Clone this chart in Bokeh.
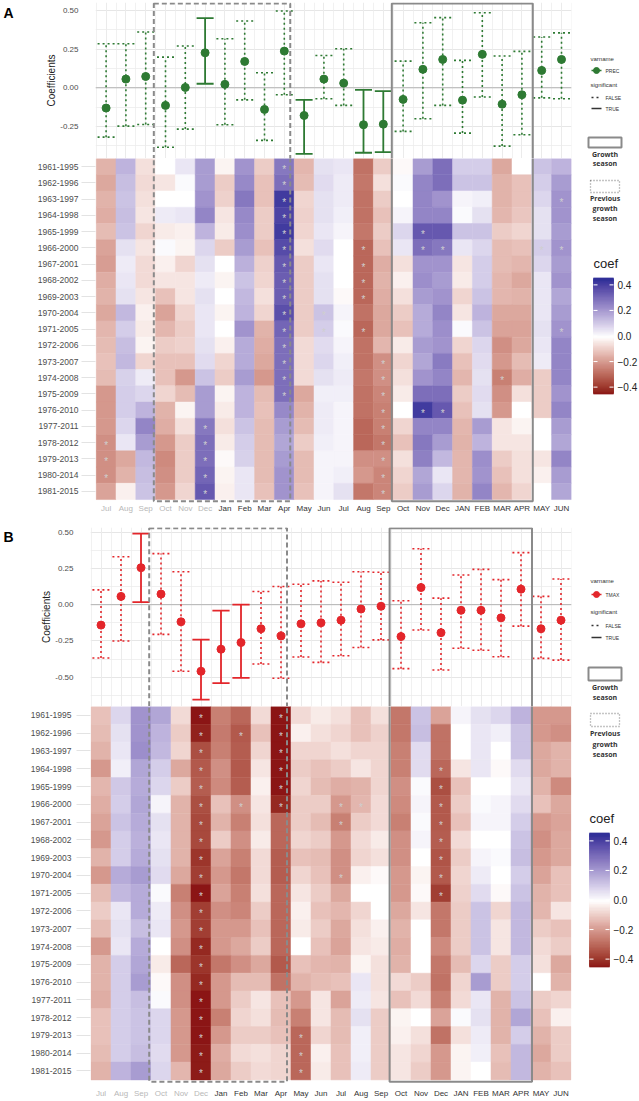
import numpy as np
from bokeh.plotting import figure
from bokeh.models import (ColumnDataSource, Range1d, FixedTicker, LinearColorMapper,
                          Span, PrintfTickFormatter, Grid)
from bokeh.layouts import column, row
from bokeh.transform import transform
from bokeh.core.properties import value
from bokeh.embed import file_html
from bokeh.resources import INLINE

# ------------------------------------------------------------------ data
months = ["Jul", "Aug", "Sep", "Oct", "Nov", "Dec", "Jan", "Feb", "Mar", "Apr", "May", "Jun",
          "Jul", "Aug", "Sep", "Oct", "Nov", "Dec", "JAN", "FEB", "MAR", "APR", "MAY", "JUN"]
previous_year_month = [True] * 6 + [False] * 18
windows = ["1961-1995", "1962-1996", "1963-1997", "1964-1998", "1965-1999", "1966-2000",
           "1967-2001", "1968-2002", "1969-2003", "1970-2004", "1971-2005", "1972-2006",
           "1973-2007", "1974-2008", "1975-2009", "1976-2010", "1977-2011", "1978-2012",
           "1979-2013", "1980-2014", "1981-2015"]

# whole-period coefficients (top panels)
prec_coef = [-0.131, 0.056, 0.073, -0.114, 0.002, 0.226, 0.022, 0.170, -0.140, 0.237, -0.179, 0.056,
             0.030, -0.239, -0.235, -0.075, 0.119, 0.183, -0.080, 0.216, -0.106, -0.045, 0.112, 0.183]
prec_lower = [-0.319, -0.248, -0.237, -0.384, -0.267, 0.026, -0.239, -0.078, -0.340, -0.045, -0.427, -0.071,
              -0.114, -0.420, -0.416, -0.282, -0.200, -0.114, -0.293, -0.060, -0.377, -0.304, -0.065, -0.071]
prec_upper = [0.284, 0.284, 0.360, 0.198, 0.270, 0.450, 0.317, 0.431, 0.097, 0.496, -0.078, 0.209,
              0.252, -0.013, -0.022, 0.172, 0.420, 0.453, 0.177, 0.485, 0.205, 0.235, 0.328, 0.355]
prec_significant = [False, False, False, False, False, True, False, False, False, False, True, False,
                    False, True, True, False, False, False, False, False, False, False, False, False]

tmax_coef = [-0.141, 0.057, 0.255, 0.073, -0.118, -0.459, -0.307, -0.261, -0.166, -0.216, -0.132, -0.125,
             -0.107, -0.030, -0.011, -0.220, 0.118, -0.193, -0.039, -0.039, -0.091, 0.107, -0.166, -0.107]
tmax_lower = [-0.368, -0.250, 0.018, -0.205, -0.459, -0.655, -0.541, -0.505, -0.409, -0.507, -0.361, -0.398,
              -0.352, -0.295, -0.243, -0.441, -0.175, -0.450, -0.300, -0.314, -0.359, -0.148, -0.370, -0.382]
tmax_upper = [0.102, 0.330, 0.490, 0.352, 0.227, -0.241, -0.041, 0.000, 0.091, 0.125, 0.141, 0.164,
              0.155, 0.227, 0.223, 0.027, 0.386, 0.045, 0.205, 0.243, 0.173, 0.359, 0.057, 0.177]
tmax_significant = [False, False, True, False, False, True, True, True, False, False, False, False,
                    False, False, False, False, False, False, False, False, False, False, False, False]

# moving-window coefficients: one list per month (21 windows each, 1961-1995 ... 1981-2015)
prec_heat = [
    [-0.15, -0.17, -0.15, -0.16, -0.13, -0.18, -0.19, -0.16, -0.15, -0.17, -0.14, -0.13, -0.12, -0.13, -0.20, -0.20, -0.20, -0.22, -0.22, -0.22, -0.18],
    [0.15, 0.13, 0.12, 0.13, 0.12, 0.06, 0.04, 0.05, 0.06, 0.14, 0.10, 0.13, 0.14, 0.09, 0.10, 0.10, 0.08, 0.05, -0.17, -0.15, -0.03],
    [-0.06, -0.07, -0.06, -0.05, -0.08, -0.05, -0.07, -0.07, -0.05, -0.03, -0.04, -0.02, -0.08, 0.04, 0.08, 0.15, 0.25, 0.20, 0.14, 0.13, 0.12],
    [0.00, -0.05, 0.00, 0.04, -0.04, 0.01, -0.03, -0.05, -0.12, -0.18, -0.14, -0.10, -0.12, -0.12, -0.08, -0.15, -0.16, -0.20, -0.23, -0.22, -0.20],
    [0.05, 0.01, 0.00, 0.05, -0.03, -0.02, -0.08, -0.05, -0.05, -0.08, -0.10, -0.09, -0.12, -0.20, -0.13, -0.02, -0.06, -0.10, -0.10, -0.10, -0.08],
    [0.20, 0.20, 0.22, 0.25, 0.15, 0.08, 0.06, 0.04, 0.06, 0.05, 0.05, 0.06, 0.07, 0.12, 0.20, 0.20, 0.28, 0.30, 0.30, 0.32, 0.35],
    [-0.02, -0.10, -0.09, -0.05, -0.04, -0.10, 0.00, -0.02, 0.00, -0.02, 0.00, -0.03, -0.08, -0.10, -0.02, -0.04, -0.06, -0.04, -0.01, -0.02, -0.03],
    [0.22, 0.24, 0.28, 0.24, 0.23, 0.20, 0.16, 0.12, 0.14, 0.15, 0.22, 0.17, 0.17, 0.20, 0.15, 0.15, 0.12, 0.10, 0.09, 0.05, 0.05],
    [-0.10, -0.12, -0.12, -0.10, -0.10, -0.12, -0.09, -0.08, -0.06, -0.08, -0.15, -0.16, -0.17, -0.20, -0.13, -0.12, -0.13, -0.13, -0.13, -0.13, -0.12],
    [0.28, 0.30, 0.42, 0.40, 0.42, 0.38, 0.35, 0.34, 0.34, 0.37, 0.32, 0.30, 0.30, 0.30, 0.30, 0.24, 0.20, 0.18, 0.20, 0.22, 0.22],
    [-0.14, -0.13, -0.08, -0.09, -0.08, -0.06, -0.10, -0.10, -0.10, -0.10, -0.10, -0.07, -0.07, -0.07, -0.17, -0.15, -0.13, -0.10, -0.13, -0.13, -0.12],
    [0.06, 0.07, 0.06, 0.06, 0.05, 0.07, 0.05, 0.06, 0.06, 0.12, 0.10, 0.07, 0.08, 0.06, 0.03, 0.04, 0.04, 0.03, 0.02, 0.02, 0.02],
    [0.05, 0.04, 0.04, 0.03, 0.02, 0.00, 0.00, 0.00, -0.01, 0.02, 0.01, 0.02, 0.03, 0.04, 0.03, 0.02, 0.02, 0.02, 0.02, 0.03, 0.06],
    [-0.28, -0.27, -0.28, -0.28, -0.27, -0.30, -0.30, -0.30, -0.30, -0.28, -0.30, -0.28, -0.28, -0.27, -0.28, -0.28, -0.30, -0.30, -0.22, -0.20, -0.27],
    [-0.10, -0.06, -0.10, -0.12, -0.10, -0.12, -0.16, -0.15, -0.16, -0.17, -0.17, -0.14, -0.22, -0.22, -0.24, -0.25, -0.25, -0.27, -0.22, -0.24, -0.24],
    [-0.01, 0.01, 0.00, 0.02, 0.08, 0.05, -0.06, -0.03, -0.06, -0.10, -0.12, -0.04, -0.08, -0.06, -0.04, 0.00, -0.08, -0.12, -0.06, -0.08, -0.10],
    [0.20, 0.25, 0.25, 0.25, 0.35, 0.30, 0.22, 0.23, 0.20, 0.17, 0.17, 0.20, 0.18, 0.22, 0.30, 0.42, 0.25, 0.28, 0.26, 0.18, 0.20],
    [0.30, 0.30, 0.22, 0.25, 0.35, 0.28, 0.22, 0.20, 0.22, 0.25, 0.23, 0.22, 0.27, 0.25, 0.30, 0.35, 0.25, 0.20, 0.14, 0.05, 0.08],
    [0.10, 0.12, 0.02, 0.01, 0.12, 0.05, -0.05, -0.04, -0.08, -0.05, 0.01, -0.08, -0.12, -0.14, -0.10, -0.12, -0.14, -0.15, -0.14, -0.14, -0.15],
    [0.10, 0.12, 0.03, 0.06, 0.12, 0.08, 0.10, 0.10, 0.12, 0.15, 0.12, 0.08, 0.07, 0.06, 0.07, 0.06, 0.20, 0.15, 0.23, 0.22, 0.25],
    [-0.17, -0.15, -0.15, -0.14, -0.10, -0.13, -0.13, -0.14, -0.14, -0.17, -0.18, -0.22, -0.20, -0.25, -0.22, -0.20, -0.05, -0.05, -0.10, -0.12, -0.14],
    [0.00, -0.12, -0.12, -0.11, -0.08, -0.12, -0.14, -0.17, -0.15, -0.17, -0.18, -0.17, -0.13, -0.16, -0.06, 0.00, -0.02, -0.05, -0.06, -0.06, -0.08],
    [0.12, 0.10, 0.08, 0.06, 0.06, 0.10, 0.08, 0.05, 0.05, 0.05, 0.06, 0.05, 0.04, -0.10, -0.10, -0.10, 0.00, 0.00, -0.05, -0.03, 0.00],
    [0.15, 0.20, 0.22, 0.22, 0.20, 0.22, 0.20, 0.22, 0.18, 0.20, 0.22, 0.25, 0.25, 0.25, 0.22, 0.25, 0.20, 0.18, 0.25, 0.20, 0.18],
]
# significant windows: month index -> window indices
prec_sig_cells = {0: [17, 18, 19], 5: [16, 17, 18, 19, 20], 9: list(range(0, 15)), 11: [9, 10],
                  13: [5, 6, 7, 8, 10], 14: list(range(12, 21)), 16: [4, 5, 15], 17: [5, 15],
                  20: [13], 22: [5], 23: [2, 5, 10]}

tmax_heat = [
    [-0.12, -0.13, -0.15, -0.20, -0.14, -0.16, -0.18, -0.20, -0.15, -0.20, -0.13, -0.10, -0.13, -0.20, -0.15, -0.15, -0.16, -0.12, -0.12, -0.13, -0.15],
    [0.08, 0.06, 0.05, 0.03, 0.11, 0.10, 0.12, 0.10, 0.10, 0.17, 0.14, 0.05, 0.06, 0.05, 0.10, 0.10, 0.10, 0.10, 0.10, 0.10, 0.15],
    [0.22, 0.22, 0.23, 0.18, 0.17, 0.18, 0.17, 0.16, 0.17, 0.20, 0.17, 0.17, 0.13, 0.17, 0.18, 0.20, 0.13, 0.12, 0.12, 0.13, 0.20],
    [0.18, 0.15, 0.14, 0.10, 0.08, 0.02, 0.06, 0.05, 0.06, 0.07, 0.01, 0.04, 0.05, 0.00, -0.04, -0.01, 0.01, 0.08, 0.08, 0.07, 0.08],
    [-0.07, -0.10, -0.08, -0.17, -0.10, -0.15, -0.15, -0.15, -0.15, -0.17, -0.25, -0.22, -0.20, -0.22, -0.30, -0.22, -0.22, -0.20, -0.20, -0.20, -0.14],
    [-0.46, -0.43, -0.35, -0.33, -0.32, -0.35, -0.36, -0.36, -0.40, -0.38, -0.46, -0.38, -0.38, -0.42, -0.40, -0.42, -0.48, -0.45, -0.45, -0.44, -0.44],
    [-0.25, -0.26, -0.25, -0.22, -0.23, -0.12, -0.15, -0.10, -0.18, -0.20, -0.18, -0.22, -0.20, -0.20, -0.27, -0.20, -0.20, -0.25, -0.20, -0.16, -0.17],
    [-0.30, -0.33, -0.32, -0.33, -0.32, -0.22, -0.25, -0.22, -0.25, -0.27, -0.25, -0.24, -0.20, -0.17, -0.22, -0.13, -0.10, -0.08, -0.10, -0.07, -0.10],
    [-0.07, -0.12, -0.08, -0.05, -0.03, -0.05, -0.06, -0.04, -0.07, -0.07, -0.06, -0.10, -0.12, -0.10, -0.17, -0.13, -0.05, -0.06, -0.10, -0.06, -0.07],
    [-0.45, -0.45, -0.45, -0.45, -0.45, -0.42, -0.30, -0.30, -0.32, -0.32, -0.30, -0.30, -0.30, -0.30, -0.33, -0.28, -0.12, -0.13, -0.12, -0.08, -0.08],
    [-0.07, -0.03, -0.08, -0.10, -0.08, -0.10, -0.10, -0.08, -0.12, -0.08, -0.05, -0.03, -0.04, 0.00, -0.12, -0.15, -0.20, -0.25, -0.30, -0.30, -0.30],
    [-0.04, -0.06, -0.08, -0.12, -0.13, -0.10, -0.13, -0.10, -0.13, -0.12, -0.10, -0.12, -0.10, -0.12, -0.14, -0.13, -0.05, -0.05, -0.08, -0.03, -0.04],
    [-0.06, -0.08, -0.06, -0.10, -0.16, -0.20, -0.25, -0.20, -0.22, -0.22, -0.17, -0.14, -0.17, -0.18, -0.15, -0.12, -0.18, -0.13, -0.13, -0.12, -0.12],
    [-0.12, -0.12, -0.08, -0.05, -0.15, -0.14, -0.10, -0.07, -0.08, -0.03, 0.00, -0.08, -0.06, -0.05, -0.02, 0.05, 0.04, 0.06, 0.03, 0.03, 0.04],
    [-0.06, -0.09, -0.08, -0.08, -0.08, -0.07, -0.07, -0.04, -0.06, -0.01, 0.00, 0.00, -0.03, -0.04, -0.06, -0.06, -0.05, -0.10, -0.10, -0.10, -0.10],
    [-0.27, -0.27, -0.25, -0.25, -0.22, -0.23, -0.25, -0.22, -0.22, -0.20, -0.20, -0.17, -0.15, -0.16, -0.15, -0.07, -0.12, -0.02, -0.03, -0.05, -0.05],
    [0.12, 0.13, 0.07, 0.07, 0.01, 0.02, 0.01, 0.02, 0.00, -0.02, -0.01, -0.05, 0.00, 0.00, 0.00, -0.10, -0.07, 0.00, -0.06, -0.08, -0.10],
    [-0.18, -0.28, -0.28, -0.30, -0.35, -0.33, -0.33, -0.32, -0.34, -0.33, -0.38, -0.27, -0.27, -0.23, -0.27, -0.28, -0.25, -0.18, -0.28, -0.20, -0.20],
    [0.02, 0.00, 0.00, -0.05, -0.12, -0.10, -0.12, -0.07, -0.10, -0.08, -0.09, -0.10, -0.10, -0.10, -0.13, -0.08, -0.07, 0.01, -0.06, -0.02, -0.02],
    [0.06, 0.05, 0.05, 0.05, 0.00, 0.01, 0.02, 0.00, 0.02, 0.04, 0.07, 0.12, 0.12, 0.12, 0.08, 0.20, 0.05, 0.06, 0.04, 0.03, 0.00],
    [0.08, 0.03, 0.00, -0.01, 0.00, 0.02, 0.02, 0.00, 0.01, 0.00, -0.01, -0.08, -0.05, -0.05, -0.10, -0.10, -0.15, -0.15, -0.15, -0.12, -0.13],
    [0.15, 0.12, 0.12, 0.07, 0.05, 0.07, 0.10, 0.12, 0.13, 0.10, 0.12, 0.14, 0.14, 0.14, 0.10, 0.10, 0.12, 0.18, 0.10, 0.14, 0.14],
    [-0.20, -0.20, -0.17, -0.17, -0.15, -0.12, -0.20, -0.22, -0.20, -0.18, -0.15, -0.14, -0.10, -0.07, -0.06, 0.00, -0.10, -0.12, -0.15, -0.17, -0.15],
    [-0.20, -0.22, -0.15, -0.15, -0.23, -0.17, -0.18, -0.17, -0.17, -0.12, -0.12, -0.05, -0.12, -0.10, -0.17, -0.15, -0.08, -0.03, -0.10, -0.10, -0.12],
]
tmax_sig_cells = {5: list(range(0, 21)), 7: [1, 5], 9: [0, 1, 2, 3, 4, 5], 10: [18, 19, 20],
                  12: [5, 6, 9], 13: [5], 17: [3, 4, 5, 6, 7, 8, 9, 10]}

# growing seasons (month indices)
previous_season = (3, 9)
current_season = (15, 21)

# ------------------------------------------------------------------ style helpers
FONT = "Liberation Sans"
GREY_TXT = "#4d4d4d"
BOX_GREY = "#8a8a8a"
LAB_W = 14             # strip holding the panel letter
COL_W = 561            # plot column width (page x 14 .. 575)
LEG_X0 = LAB_W + COL_W
LEG_W = 64

_M = np.array([[0.4124564, 0.3575761, 0.1804375],
               [0.2126729, 0.7151522, 0.0721750],
               [0.0193339, 0.1191920, 0.9503041]])
_WHITE = np.array([0.95047, 1.0, 1.08883])


def _to_lab(hexc):
    c = np.array([int(hexc[i:i + 2], 16) for i in (1, 3, 5)]) / 255.0
    lin = np.where(c <= 0.04045, c / 12.92, ((c + 0.055) / 1.055) ** 2.4)
    t = (_M @ lin) / _WHITE
    f = np.where(t > (6 / 29) ** 3, np.cbrt(t), t / (3 * (6 / 29) ** 2) + 4 / 29)
    return np.array([116 * f[1] - 16, 500 * (f[0] - f[1]), 200 * (f[1] - f[2])])


def _from_lab(lab):
    L, a, b = lab
    fy = (L + 16) / 116
    f = np.array([fy + a / 500, fy, fy - b / 200])
    t = np.where(f > 6 / 29, f ** 3, 3 * (6 / 29) ** 2 * (f - 4 / 29))
    lin = np.clip(np.linalg.inv(_M) @ (t * _WHITE), 0, 1)
    c = np.where(lin <= 0.0031308, 12.92 * lin, 1.055 * lin ** (1 / 2.4) - 0.055)
    r, g, bb = np.clip(np.round(c * 255), 0, 255).astype(int)
    return "#%02x%02x%02x" % (r, g, bb)


def lab_ramp(c0, c1, n):
    l0, l1 = _to_lab(c0), _to_lab(c1)
    return [_from_lab(l0 + (l1 - l0) * t) for t in np.linspace(0, 1, n)]


palette = lab_ramp("#8b1515", "#ffffff", 128) + lab_ramp("#ffffff", "#2f2f98", 128)[1:]
CB_LO, CB_HI = -0.45, 0.45
mapper = LinearColorMapper(palette=palette, low=CB_LO, high=CB_HI)


def box_edges(season, inset_l, inset_r):
    return season[0] - 0.5 + inset_l, season[1] + 0.5 - inset_r


def add_boxes(p, y_top, y_bottom):
    l, r = box_edges(previous_season, -0.09, 0.2)
    p.quad(left=[l], right=[r], top=[y_top], bottom=[y_bottom], fill_alpha=0,
           line_color=BOX_GREY, line_width=2, line_dash="5 3")
    l, r = box_edges(current_season, -0.07, -0.05)
    p.quad(left=[l], right=[r], top=[y_top], bottom=[y_bottom], fill_alpha=0,
           line_color=BOX_GREY, line_width=2)


def x_window(unit, frame_left, tile_left, frame_right):
    x0 = -0.5 - (tile_left - frame_left) / unit
    return x0, x0 + (frame_right - frame_left) / unit


def top_plot(coef, lower, upper, signif, color, y_rng, major, minor, unit, frame_left, tile_left,
             frame_right, frame_h, top_b):
    left_b = frame_left - LAB_W
    frame_w = frame_right - frame_left
    p = figure(frame_width=frame_w, frame_height=frame_h,
               x_range=Range1d(*x_window(unit, frame_left, tile_left, frame_right)), y_range=Range1d(*y_rng),
               x_axis_location=None, toolbar_location=None, output_backend="svg",
               min_border_left=left_b, min_border_right=COL_W - left_b - frame_w,
               min_border_top=top_b, min_border_bottom=0)
    p.outline_line_color = None
    p.xgrid.visible = False
    n = len(coef)
    p.add_layout(Grid(dimension=0, ticker=FixedTicker(ticks=list(range(n)),
                                                      minor_ticks=[i - 0.5 for i in range(n + 1)]),
                      grid_line_color="#ebebeb", minor_grid_line_color="#ebebeb",
                      minor_grid_line_width=0.7), "center")
    p.ygrid.ticker = FixedTicker(ticks=major, minor_ticks=minor)
    p.ygrid.grid_line_color = "#e6e6e6"
    p.ygrid.minor_grid_line_color = "#f0f0f0"
    p.yaxis.ticker = FixedTicker(ticks=major)
    p.yaxis.formatter = PrintfTickFormatter(format="%.2f")
    p.yaxis.axis_line_color = None
    p.yaxis.major_tick_line_color = None
    p.yaxis.minor_tick_line_color = None
    p.yaxis.major_label_standoff = 11
    p.yaxis.major_label_text_font = FONT
    p.yaxis.major_label_text_font_size = "8px"
    p.yaxis.major_label_text_color = GREY_TXT
    p.yaxis.axis_label = "Coefficients"
    p.yaxis.axis_label_standoff = 0
    p.yaxis.axis_label_text_font = FONT
    p.yaxis.axis_label_text_font_size = "10px"
    p.yaxis.axis_label_text_font_style = "normal"
    p.yaxis.axis_label_text_color = "#222222"

    p.add_layout(Span(location=0, dimension="width", line_color="#b5b5b5", line_width=1, level="underlay"))

    cap = 0.43
    idx_all = list(range(n))
    for flag, dash, lw in ((False, "2 3", 1.6), (True, "solid", 1.8)):
        idx = [i for i in idx_all if signif[i] == flag]
        src = ColumnDataSource(dict(x=idx, lo=[lower[i] for i in idx], hi=[upper[i] for i in idx],
                                    xl=[i - cap for i in idx], xr=[i + cap for i in idx]))
        p.segment(x0="x", y0="lo", x1="x", y1="hi", source=src, line_color=color, line_width=lw, line_dash=dash)
        p.segment(x0="xl", y0="lo", x1="xr", y1="lo", source=src, line_color=color, line_width=lw, line_dash=dash)
        p.segment(x0="xl", y0="hi", x1="xr", y1="hi", source=src, line_color=color, line_width=lw, line_dash=dash)
    p.scatter(x=idx_all, y=coef, size=8, color=color)

    add_boxes(p, y_rng[1] - 0.006, y_rng[0] - 1.0)
    return p


def heat_plot(table, sig_cells, unit, frame_left, tile_left, frame_right, row_h, frame_h, label_row, standoff):
    left_b = frame_left - LAB_W
    frame_w = frame_right - frame_left
    y_bottom = -0.5 + frame_h / row_h
    h = figure(frame_width=frame_w, frame_height=frame_h,
               x_range=Range1d(*x_window(unit, frame_left, tile_left, frame_right)),
               y_range=Range1d(y_bottom, -0.5),
               x_axis_location=None, toolbar_location=None, output_backend="svg",
               min_border_left=left_b, min_border_right=COL_W - left_b - frame_w,
               min_border_top=0, min_border_bottom=0)
    h.outline_line_color = None
    h.xgrid.visible = False
    h.ygrid.visible = False
    nrow = len(windows)
    h.yaxis.ticker = FixedTicker(ticks=list(range(nrow)))
    h.yaxis.major_label_overrides = {i: w for i, w in enumerate(windows)}
    h.yaxis.axis_line_color = None
    h.yaxis.major_tick_out = 14
    h.yaxis.major_tick_in = 0
    h.yaxis.major_tick_line_color = "#e3e3e3"
    h.yaxis.minor_tick_line_color = None
    h.yaxis.major_label_standoff = standoff
    h.yaxis.major_label_text_font = FONT
    h.yaxis.major_label_text_font_size = "8.5px"
    h.yaxis.major_label_text_color = GREY_TXT

    xs, ys, vs = [], [], []
    for m, col in enumerate(table):
        for w, v in enumerate(col):
            xs.append(m)
            ys.append(w)
            vs.append(v)
    src = ColumnDataSource(dict(x=xs, y=ys, coef=vs))
    h.rect(x="x", y="y", width=1, height=1, source=src,
           fill_color=transform("coef", mapper), line_color=transform("coef", mapper), line_width=0.5)

    sx, sy = [], []
    for m, rows in sig_cells.items():
        for w in rows:
            sx.append(m)
            sy.append(w)
    h.text(x=sx, y=sy, text=["*"] * len(sx), text_color="#cfcfcf", text_font=value(FONT),
           text_font_size="10px", text_align="center", text_baseline="middle", y_offset=3)

    add_boxes(h, -3.0, nrow - 0.5 + 0.1)

    colors = ["#b8b8b8" if pv else "#333333" for pv in previous_year_month]
    h.text(x=list(range(len(months))), y=[label_row] * len(months), text=months, text_color=colors,
           text_font=value(FONT), text_font_size="8px", text_align="center", text_baseline="middle")
    return h


def letter_plot(height, letter, y):
    lp = figure(width=LAB_W, height=height, x_range=Range1d(0, LAB_W), y_range=Range1d(height, 0),
                x_axis_location=None, y_axis_location=None, toolbar_location=None, output_backend="svg",
                min_border=0)
    lp.outline_line_color = None
    lp.xgrid.visible = False
    lp.ygrid.visible = False
    lp.text(x=[3], y=[y], text=[letter], text_font=value(FONT), text_font_style="bold",
            text_font_size="14px", text_baseline="middle", text_align="left", text_color="black")
    return lp


def legend_plot(height, page_top, color, varname_label, ys):
    lg = figure(width=LEG_W, height=height, x_range=Range1d(LEG_X0, LEG_X0 + LEG_W),
                y_range=Range1d(page_top + height, page_top), x_axis_location=None, y_axis_location=None,
                toolbar_location=None, output_backend="svg", min_border=0)
    lg.outline_line_color = None
    lg.xgrid.visible = False
    lg.ygrid.visible = False
    tx = 590
    small = dict(text_font=value(FONT), text_baseline="middle", text_align="left", text_color="#333333")
    lg.text(x=[tx, tx], y=[ys["var"], ys["sig"]], text=["varname", "significant"], text_font_size="6px", **small)
    lg.segment(x0=[591], y0=[ys["item"]], x1=[601], y1=[ys["item"]], line_color=color, line_width=1.6)
    lg.scatter(x=[596], y=[ys["item"]], size=6, color=color)
    lg.text(x=[605, 605, 605], y=[ys["item"], ys["false"], ys["true"]], text=[varname_label, "FALSE", "TRUE"],
            text_font_size="5px", **small)
    lg.segment(x0=[591], y0=[ys["false"]], x1=[601], y1=[ys["false"]], line_color="#333333",
               line_width=1.5, line_dash="2 3")
    lg.segment(x0=[591], y0=[ys["true"]], x1=[601], y1=[ys["true"]], line_color="#333333", line_width=1.5)

    gb = ys["grow_box"]
    lg.quad(left=[588], right=[621], top=[gb[0]], bottom=[gb[1]], fill_alpha=0, line_color=BOX_GREY, line_width=2)
    bold = dict(text_font=value("Open Sans"), text_font_style="bold", text_font_size="7px",
                text_align="center", text_baseline="middle", text_color="#333333")
    lg.text(x=[604.5, 604.5], y=list(ys["grow_txt"]), text=["Growth", "season"], **bold)
    pb = ys["prev_box"]
    lg.quad(left=[590], right=[619], top=[pb[0]], bottom=[pb[1]], fill_alpha=0, line_color=BOX_GREY,
            line_width=1.3, line_dash="1 2")
    lg.text(x=[604.5, 604.5, 604.5], y=list(ys["prev_txt"]), text=["Previous", "growth", "season"], **bold)

    bx = ys["bar_x"]
    lg.text(x=[bx], y=[ys["coef"]], text=["coef"], text_font=value(FONT), text_font_size="13px",
            text_baseline="middle", text_align="left", text_color="#222222")
    # colour bar (slices overlap slightly so no seams show)
    b0, b1 = ys["bar"]
    edges = np.linspace(CB_LO, CB_HI, 91)
    px = lambda v: b1 - (v - CB_LO) / (CB_HI - CB_LO) * (b1 - b0)
    mids = (edges[:-1] + edges[1:]) / 2
    slice_cols = [palette[min(254, int((m - CB_LO) / (CB_HI - CB_LO) * 255))] for m in mids]
    lg.quad(left=bx, right=bx + 20, top=[px(e) - 0.6 for e in edges[1:]], bottom=[px(e) + 0.6 for e in edges[:-1]],
            fill_color=slice_cols, line_color=slice_cols, line_width=0.6)
    ticks = [0.4, 0.2, 0.0, -0.2, -0.4]
    tys = [px(t) for t in ticks]
    lg.segment(x0=[bx] * 5, y0=tys, x1=[bx + 4] * 5, y1=tys, line_color="white", line_width=1)
    lg.segment(x0=[bx + 16] * 5, y0=tys, x1=[bx + 20] * 5, y1=tys, line_color="white", line_width=1)
    lg.text(x=[bx + 24] * 5, y=tys, text=["%.1f" % t if t >= 0 else "\u2212%.1f" % abs(t) for t in ticks],
            text_font=value(FONT), text_font_size="10px", text_baseline="middle", text_align="left",
            text_color="#222222")
    return lg


# ------------------------------------------------------------------ panel A  (page y 0 .. 523)
topA = top_plot(prec_coef, prec_lower, prec_upper, prec_significant, "#2e7a33",
                (-0.457, 0.551), [-0.25, 0.0, 0.25, 0.5], [-0.375, -0.125, 0.125, 0.375],
                unit=19.8, frame_left=95, tile_left=95.7, frame_right=571, frame_h=156, top_b=2)
heatA = heat_plot(prec_heat, prec_sig_cells, unit=19.8, frame_left=95, tile_left=95.7, frame_right=571,
                  row_h=16.24, frame_h=365, label_row=21.05, standoff=3)
labA = letter_plot(523, "A", 12)
legA = legend_plot(523, 0, "#2e7a33", "PREC",
                   dict(var=58, item=70, sig=84, false=97, true=108, grow_box=(137, 147), grow_txt=(154, 163),
                        prev_box=(180, 192), prev_txt=(198, 208, 218), coef=263, bar=(278, 393), bar_x=593))

# ------------------------------------------------------------------ panel B  (page y 523 .. 1100)
topB = top_plot(tmax_coef, tmax_lower, tmax_upper, tmax_significant, "#e3262b",
                (-0.702, 0.532), [-0.5, -0.25, 0.0, 0.25, 0.5], [-0.625, -0.375, -0.125, 0.125, 0.375],
                unit=20.0, frame_left=90, tile_left=90.5, frame_right=571, frame_h=179, top_b=4)
heatB = heat_plot(tmax_heat, tmax_sig_cells, unit=20.0, frame_left=90, tile_left=90.5, frame_right=571,
                  row_h=17.78, frame_h=394, label_row=21.25, standoff=5)
labB = letter_plot(577, "B", 13)
legB = legend_plot(577, 523, "#e3262b", "TMAX",
                   dict(var=580, item=594, sig=611, false=625, true=637, grow_box=(667, 680), grow_txt=(687, 697),
                        prev_box=(713, 726), prev_txt=(733, 744, 754), coef=818, bar=(833, 966), bar_x=589))

layout = column(row(labA, column(topA, heatA), legA), row(labB, column(topB, heatB), legB))

with open("out.html", "w") as f:
    f.write(file_html(layout, INLINE))
